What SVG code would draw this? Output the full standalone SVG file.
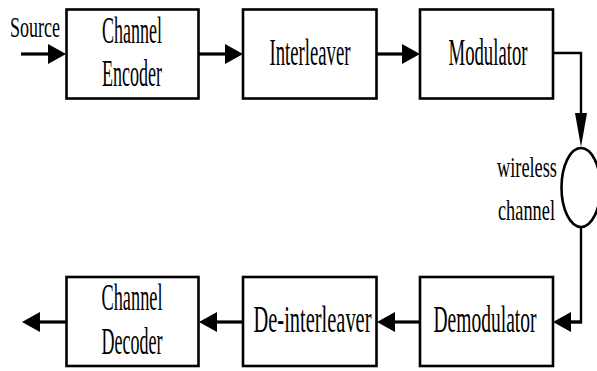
<svg xmlns="http://www.w3.org/2000/svg" width="597" height="371" viewBox="0 0 597 371">
<style>
.box{fill:#fff;stroke:#000;stroke-width:2.6}
.t{font-family:"Liberation Serif","Times New Roman",serif;font-size:38px;fill:#000;text-anchor:middle}
.l{font-family:"Liberation Serif","Times New Roman",serif;font-size:30px;fill:#000}
.c{fill:none;stroke:#000;stroke-width:3.2}
.thin{fill:none;stroke:#000;stroke-width:2.4}
</style>
<defs>
<marker id="ah" viewBox="0 0 18 20" refX="0" refY="10" markerWidth="18" markerHeight="20" markerUnits="userSpaceOnUse" orient="auto">
<path d="M0,0 L18,10 L0,20 Z" fill="#000"/>
</marker>
<marker id="ahd" viewBox="0 0 34 12" refX="0" refY="6" markerWidth="34" markerHeight="12" markerUnits="userSpaceOnUse" orient="auto">
<path d="M0,0 L34,6 L0,12 Z" fill="#000"/>
</marker>
</defs>
<g id="connectors">
<polyline class="c" points="21,54 48,54" marker-end="url(#ah)"/>
<polyline class="c" points="199,54 225,54" marker-end="url(#ah)"/>
<polyline class="c" points="377,54 402,54" marker-end="url(#ah)"/>
<polyline class="thin" points="553,53 581,53 581,113" marker-end="url(#ahd)"/>
<polyline class="thin" points="581,227 581,322 571,322"/>
<polyline class="c" points="582,322 571,322" marker-end="url(#ah)"/>
<polyline class="c" points="420,322 395,322" marker-end="url(#ah)"/>
<polyline class="c" points="243,322 217,322" marker-end="url(#ah)"/>
<polyline class="c" points="66,322 40,322" marker-end="url(#ah)"/>
</g>
<g id="source"><text class="l" transform="scale(0.6,1)" x="16.7" y="37" textLength="83.3" lengthAdjust="spacingAndGlyphs">Source</text></g>
<g id="channel-encoder">
<rect class="box" x="66.5" y="9.5" width="132" height="89"/>
<text class="t" transform="scale(0.5,1)" x="264" y="43" textLength="120" lengthAdjust="spacingAndGlyphs">Channel</text>
<text class="t" transform="scale(0.5,1)" x="264" y="86" textLength="120" lengthAdjust="spacingAndGlyphs">Encoder</text>
</g>
<g id="interleaver">
<rect class="box" x="243" y="9.5" width="133.5" height="89"/>
<text class="t" transform="scale(0.5,1)" x="620" y="65" textLength="162" lengthAdjust="spacingAndGlyphs">Interleaver</text>
</g>
<g id="modulator">
<rect class="box" x="420" y="9.5" width="133" height="89"/>
<text class="t" transform="scale(0.5,1)" x="976" y="65" textLength="158" lengthAdjust="spacingAndGlyphs">Modulator</text>
</g>
<g id="wireless-channel">
<ellipse cx="581" cy="187.5" rx="19.5" ry="39.5" fill="#fff" stroke="#000" stroke-width="2.6"/>
<text class="l" transform="scale(0.6,1)" x="828.3" y="177" textLength="100" lengthAdjust="spacingAndGlyphs">wireless</text>
<text class="l" transform="scale(0.6,1)" x="830" y="220" textLength="95" lengthAdjust="spacingAndGlyphs">channel</text>
</g>
<g id="demodulator">
<rect class="box" x="420" y="277" width="133" height="89"/>
<text class="t" transform="scale(0.5,1)" x="970" y="332.5" textLength="206" lengthAdjust="spacingAndGlyphs">Demodulator</text>
</g>
<g id="de-interleaver">
<rect class="box" x="243" y="277" width="133.5" height="89"/>
<text class="t" transform="scale(0.5,1)" x="625" y="332.5" textLength="236" lengthAdjust="spacingAndGlyphs">De-interleaver</text>
</g>
<g id="channel-decoder">
<rect class="box" x="66.5" y="277" width="132" height="89"/>
<text class="t" transform="scale(0.5,1)" x="264" y="310.5" textLength="122" lengthAdjust="spacingAndGlyphs">Channel</text>
<text class="t" transform="scale(0.5,1)" x="264" y="354" textLength="122" lengthAdjust="spacingAndGlyphs">Decoder</text>
</g>
</svg>
